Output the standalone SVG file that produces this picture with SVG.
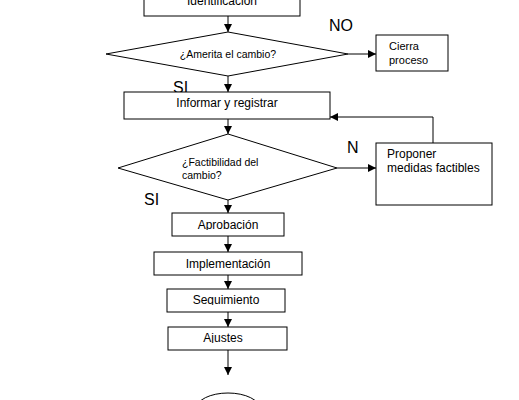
<svg xmlns="http://www.w3.org/2000/svg" width="519" height="400" viewBox="0 0 519 400">
<style>
.box{fill:#fff;stroke:#000;stroke-width:1}
.t{font-family:"Liberation Sans",Arial,sans-serif;font-size:12px;fill:#000}
.s{font-size:10.5px}
.lbl{font-family:"Liberation Sans",Arial,sans-serif;font-size:16px;fill:#000}
.c{text-anchor:middle}
.ln{stroke:#000;stroke-width:1;fill:none}
</style>
<defs>
<marker id="ah" viewBox="0 0 10 10" refX="10" refY="5" markerWidth="8" markerHeight="8" markerUnits="userSpaceOnUse" orient="auto">
<path d="M0,0 L10,5 L0,10 Z" fill="#000"/>
</marker>
<clipPath id="cp1"><rect x="376" y="35" width="72" height="31"/></clipPath>
<clipPath id="cp2"><rect x="172" y="213" width="112" height="17"/></clipPath>
<clipPath id="cp3"><rect x="167" y="289" width="118" height="16"/></clipPath>
<clipPath id="cp4"><rect x="168" y="327" width="119" height="16"/></clipPath>
</defs>
<g id="labels">
<text class="lbl" x="329" y="31">NO</text>
<text class="lbl" x="173" y="93">SI</text>
<text class="lbl" x="347" y="153">N</text>
<text class="lbl" x="144" y="205">SI</text>
</g>
<g id="connectors">
<line class="ln" x1="228" y1="16" x2="228" y2="32" marker-end="url(#ah)"/>
<line class="ln" x1="348" y1="54" x2="376" y2="54" marker-end="url(#ah)"/>
<line class="ln" x1="228" y1="76" x2="228" y2="92" marker-end="url(#ah)"/>
<line class="ln" x1="228" y1="119" x2="228" y2="134" marker-end="url(#ah)"/>
<line class="ln" x1="337" y1="168" x2="376" y2="168" marker-end="url(#ah)"/>
<polyline class="ln" points="433,143 433,117 330,117" marker-end="url(#ah)"/>
<line class="ln" x1="228" y1="200" x2="228" y2="213" marker-end="url(#ah)"/>
<line class="ln" x1="228" y1="236" x2="228" y2="252" marker-end="url(#ah)"/>
<line class="ln" x1="228" y1="275" x2="228" y2="289" marker-end="url(#ah)"/>
<line class="ln" x1="228" y1="312" x2="228" y2="327" marker-end="url(#ah)"/>
<line class="ln" x1="228" y1="350" x2="228" y2="375" marker-end="url(#ah)"/>
</g>
<g id="identificacion">
<rect class="box" x="144" y="-10" width="156" height="26"/>
<text class="t c" x="222" y="5">Identificación</text>
</g>
<g id="amerita">
<polygon class="box" points="228,32 348,54 228,76 106,54"/>
<text class="t s c" x="228" y="58">¿Amerita el cambio?</text>
</g>
<g id="cierra">
<rect class="box" x="376" y="35" width="72" height="36"/>
<g clip-path="url(#cp1)">
<text class="t" x="389" y="50" style="font-size:11px">Cierra</text>
<text class="t" x="389" y="64" style="font-size:11px">proceso</text>
</g>
</g>
<g id="informar">
<rect class="box" x="124" y="92" width="206" height="27"/>
<text class="t c" x="227" y="107">Informar y registrar</text>
</g>
<g id="factibilidad">
<polygon class="box" points="228,134 337,168 228,200 118,168"/>
<text class="t s" x="182" y="166">¿Factibilidad del</text>
<text class="t s" x="182" y="179">cambio?</text>
</g>
<g id="proponer">
<rect class="box" x="376" y="143" width="116" height="62"/>
<text class="t" x="387" y="158">Proponer</text>
<text class="t" x="387" y="172">medidas factibles</text>
</g>
<g id="aprobacion">
<rect class="box" x="172" y="213" width="112" height="23"/>
<text class="t c" x="228" y="229" clip-path="url(#cp2)">Aprobación</text>
</g>
<g id="implementacion">
<rect class="box" x="154" y="252" width="148" height="23"/>
<text class="t c" x="228" y="268">Implementación</text>
</g>
<g id="seguimiento">
<rect class="box" x="167" y="289" width="118" height="23"/>
<text class="t c" x="226" y="304" clip-path="url(#cp3)">Seguimiento</text>
</g>
<g id="ajustes">
<rect class="box" x="168" y="327" width="119" height="23"/>
<text class="t c" x="223" y="342" clip-path="url(#cp4)">Ajustes</text>
</g>
<g id="fin">
<ellipse class="box" cx="228" cy="409" rx="32" ry="16"/>
</g>
</svg>
